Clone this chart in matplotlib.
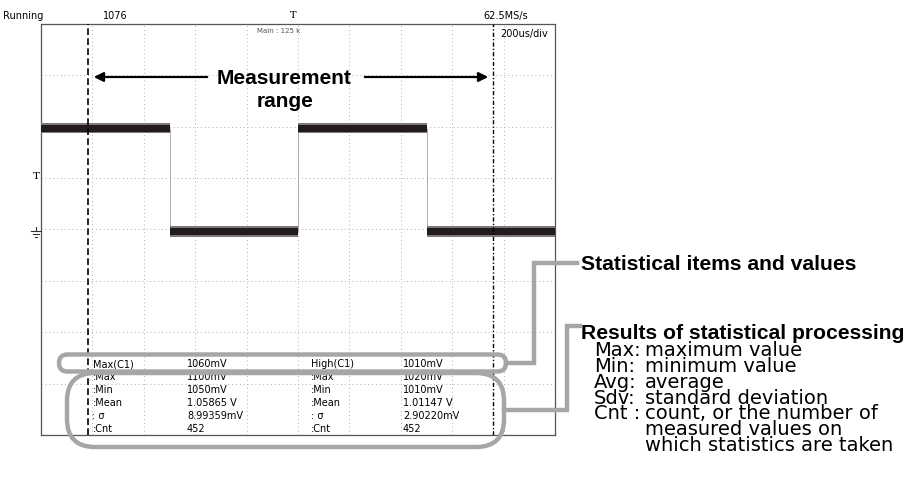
import numpy as np
import matplotlib.pyplot as plt
from matplotlib.patches import FancyBboxPatch

# waveform, in divisions (10 x 8 grid, 200us/div)
edges = [0.0, 2.5, 5.0, 7.5, 10.0]
levels = [1.97, -0.04, 1.97, -0.04]
noise_band = 0.1
cursors = [0.91, 8.79]

# status bar
status_left = 'Running'
acq_count = '1076'
sample_rate = '62.5MS/s'
main_len = 'Main : 125 k'
timebase = '200us/div'

# statistics table
stat_rows = ['Max(C1)', ':Max', ':Min', ':Mean', ': σ', ':Cnt']
stat_vals_1 = ['1060mV', '1100mV', '1050mV', '1.05865 V', '8.99359mV', '452']
stat_rows_2 = ['High(C1)', ':Max', ':Min', ':Mean', ': σ', ':Cnt']
stat_vals_2 = ['1010mV', '1020mV', '1010mV', '1.01147 V', '2.90220mV', '452']

# explanation list
legend_keys = ['Max:', 'Min:', 'Avg:', 'Sdv:', 'Cnt :']
legend_text = ['maximum value', 'minimum value', 'average', 'standard deviation',
               'count, or the number of', 'measured values on',
               'which statistics are taken']

W, H = 907, 486
GRAY = '#a6a6a6'


def main():
    fig = plt.figure(figsize=(W / 100, H / 100), dpi=100)

    # scope screen
    ax = fig.add_axes([41 / W, 1 - 435 / H, 514 / W, 411 / H])
    ax.set_xlim(0, 10)
    ax.set_ylim(-4, 4)
    ax.set_xticks([])
    ax.set_yticks([])
    for s in ax.spines.values():
        s.set_color('#555555')
        s.set_linewidth(0.9)
    for gx in range(1, 10):
        ax.axvline(gx, color='#b0b0b0', lw=0.7, ls=(0, (1, 3)), zorder=1)
    for gy in range(-3, 4):
        ax.axhline(gy, color='#b0b0b0', lw=0.7, ls=(0, (1, 3)), zorder=1)

    for i in range(len(levels)):
        x0, x1 = edges[i], edges[i + 1]
        ax.fill_between([x0, x1], levels[i] - noise_band, levels[i] + noise_band,
                        color='#807878', lw=0, zorder=3)
        ax.fill_between([x0, x1], levels[i] - noise_band * 0.65, levels[i] + noise_band * 0.65,
                        color='#221b1b', lw=0, zorder=3)
        if i > 0:
            ax.vlines(x0, min(levels[i - 1], levels[i]), max(levels[i - 1], levels[i]),
                      color='#a0a0a0', lw=0.6, zorder=2)

    ax.axvline(cursors[0], color='black', lw=1.2, ls=(0, (4, 2)), zorder=4)
    ax.axvline(cursors[1], color='black', lw=1.0, ls=(0, (3, 1.5, 1, 1.5)), zorder=4)

    # overlay in pixel coordinates for the annotations
    ov = fig.add_axes([0, 0, 1, 1], facecolor='none')
    ov.set_xlim(0, W)
    ov.set_ylim(H, 0)
    ov.axis('off')

    ov.text(3, 16, status_left, fontsize=7, va='center')
    ov.text(103, 16, acq_count, fontsize=7, va='center')
    ov.text(483, 16, sample_rate, fontsize=7, va='center')
    ov.text(290, 16, 'T', fontsize=7, va='center', family='DejaVu Serif')
    ov.text(257, 31, main_len, fontsize=5, va='center', color='#555555')
    ov.text(500, 34, timebase, fontsize=7, va='center')

    # trigger level / ground markers on the left
    ov.text(36, 176, 'T', fontsize=7.5, va='center', ha='center', family='DejaVu Serif')
    ov.plot([36, 36], [227, 231], color='#333333', lw=0.8)
    ov.plot([31, 41], [231, 231], color='#333333', lw=0.8)
    ov.plot([33, 39], [234, 234], color='#333333', lw=0.8)
    ov.plot([35, 37], [237, 237], color='#333333', lw=0.8)

    # statistics table
    row_y = [364.3, 377.3, 390.0, 403.0, 416.0, 428.7]
    for i in range(len(stat_rows)):
        ov.text(92.5, row_y[i], stat_rows[i], fontsize=7, va='center')
        ov.text(187, row_y[i], stat_vals_1[i], fontsize=7, va='center')
        ov.text(311, row_y[i], stat_rows_2[i], fontsize=7, va='center')
        ov.text(403, row_y[i], stat_vals_2[i], fontsize=7, va='center')

    # measurement range
    ov.text(284, 79, 'Measurement', fontsize=15, fontweight='bold', ha='center',
            va='center', family='Liberation Sans')
    ov.text(285, 101, 'range', fontsize=15, fontweight='bold', ha='center',
            va='center', family='Liberation Sans')
    ov.annotate('', xy=(91, 77), xytext=(210, 77),
                arrowprops=dict(arrowstyle='-|>', color='black', lw=1.6, mutation_scale=14))
    ov.annotate('', xy=(491, 77), xytext=(362, 77),
                arrowprops=dict(arrowstyle='-|>', color='black', lw=1.6, mutation_scale=14))

    # callouts
    ov.add_patch(FancyBboxPatch((59, 354.5), 447, 17, boxstyle='round,pad=0,rounding_size=8.5',
                                fill=False, ec=GRAY, lw=3.2, zorder=5))
    ov.add_patch(FancyBboxPatch((67, 373), 437, 74, boxstyle='round,pad=0,rounding_size=28',
                                fill=False, ec=GRAY, lw=3.2, zorder=5))
    ov.plot([506, 534, 534, 577], [363, 363, 263, 263], color=GRAY, lw=3.2,
            solid_joinstyle='miter', zorder=5)
    ov.plot([504, 567, 567, 580], [410, 410, 326, 326], color=GRAY, lw=3.2,
            solid_joinstyle='miter', zorder=5)

    ov.text(581, 264, 'Statistical items and values', fontsize=15.2, fontweight='bold',
            va='center', family='Liberation Sans')
    ov.text(581, 333, 'Results of statistical processing', fontsize=15.2, fontweight='bold',
            va='center', family='Liberation Sans')
    # list as two multi-line blocks, top-aligned so rows line up (16px pitch)
    ov.text(594, 341, '\n'.join(legend_keys), fontsize=14, va='top', linespacing=0.79)
    ov.text(645, 341, '\n'.join(legend_text), fontsize=14, va='top', linespacing=0.79)

    fig.savefig('out.png', dpi=100)


if __name__ == '__main__':
    main()
